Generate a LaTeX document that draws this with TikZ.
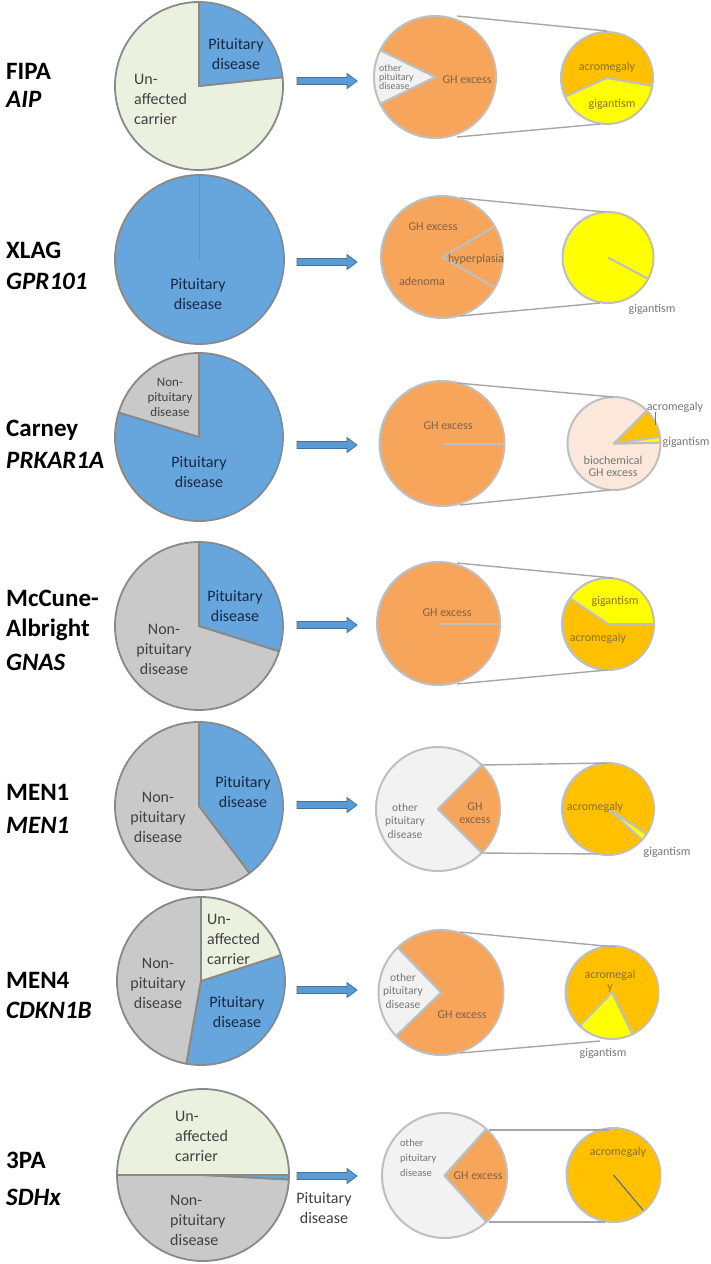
\documentclass[tikz,border=0pt]{standalone}
\usepackage{fontspec}
\setmainfont{Carlito}
\usetikzlibrary{calc}
\definecolor{pblue}{RGB}{102,166,220}
\definecolor{pgreen}{RGB}{234,241,222}
\definecolor{pgrey}{RGB}{201,201,201}
\definecolor{porange}{RGB}{247,165,90}
\definecolor{plight}{RGB}{242,242,242}
\definecolor{pgold}{RGB}{255,192,0}
\definecolor{pyellow}{RGB}{255,255,0}
\definecolor{ppeach}{RGB}{252,232,218}
\definecolor{lborder}{RGB}{137,137,137}
\definecolor{rborder}{RGB}{191,191,191}
\definecolor{zline}{RGB}{166,166,166}
\definecolor{abfill}{RGB}{91,155,213}
\definecolor{abdraw}{RGB}{65,113,156}
\definecolor{tnavy}{RGB}{22,40,66}
\definecolor{tdark}{RGB}{64,64,64}
\definecolor{tbrown}{RGB}{130,98,66}
\definecolor{tgold}{RGB}{140,112,40}
\definecolor{tgrey}{RGB}{118,118,118}
\definecolor{slate}{RGB}{100,110,130}
\newcommand\pieslice[5]{\filldraw[#5] (#1) -- ++(#3:#2) arc[start angle=#3,end angle=#4,radius=#2] -- cycle;}
\newcommand\barrow[1]{\filldraw[abstyle] (297,#1+3.5) -- (347,#1+3.5) -- (347,#1+7.5) -- (357,#1) -- (347,#1-7.5) -- (347,#1-3.5) -- (297,#1-3.5) -- cycle;}
\begin{document}
\begin{tikzpicture}[x=1pt,y=1pt,
  lpie/.style={draw=lborder,line width=1.8pt,line join=round},
  rpie/.style={draw=rborder,line width=2pt,line join=round},
  zoomline/.style={draw=zline,line width=1.4pt},
  abstyle/.style={fill=abfill,draw=abdraw,line width=0.8pt},
  rowlabel/.style={anchor=west,font=\fontsize{25}{30}\selectfont\bfseries,align=left,inner sep=0pt},
  gene/.style={anchor=west,font=\fontsize{25}{30}\selectfont\bfseries\itshape,inner sep=0pt},
  ltext/.style={font=\fontsize{16}{20}\selectfont,align=center,inner sep=0pt},
  stext/.style={font=\fontsize{12}{12}\selectfont,align=center,inner sep=0pt},
  otext/.style={text=tgrey,font=\fontsize{11.5}{13.5}\selectfont,align=center,inner sep=0pt}]
\useasboundingbox (0,0) rectangle (711,-1264);

% ================= Row 1: FIPA =================
\coordinate (L1) at (199,-86);
\pieslice{L1}{84}{90}{366}{lpie,fill=pgreen}
\pieslice{L1}{84}{6}{90}{lpie,fill=pblue}
\node[ltext,text=tnavy] (l1a) at (236,-54) {Pituitary\\disease};
\node[ltext,text=tdark,anchor=west,align=left] (l1b) at (134,-99) {Un-\\affected\\carrier};
\node[rowlabel] (n1) at (6,-71) {FIPA};
\node[gene] (g1) at (6,-99) {AIP};
\barrow{-81}
\coordinate (R1) at (435,-77);
\pieslice{R1}{61}{206}{514}{rpie,fill=porange}
\pieslice{R1}{61}{154}{206}{rpie,fill=plight}
\node[otext,anchor=west,align=left,font=\fontsize{10}{9}\selectfont] (r1a) at (379,-77) {other\\pituitary\\disease};
\node[stext,text=tbrown] (r1b) at (467,-80) {GH excess};
\coordinate (S1) at (607,-78);
\pieslice{S1}{46}{-10}{204}{rpie,fill=pgold}
\pieslice{S1}{46}{204}{350}{rpie,fill=pyellow}
\node[stext,text=tgold] (s1a) at (607,-67) {acromegaly};
\node[stext,text=tgold] (s1b) at (612,-104) {gigantism};
\coordinate (z1a) at (457,-16); \coordinate (z1b) at (607,-31);
\coordinate (z1c) at (457,-137); \coordinate (z1d) at (600,-124);
\draw[zoomline] (z1a) -- (z1b);
\draw[zoomline] (z1c) -- (z1d);

% ================= Row 2: XLAG =================
\coordinate (L2) at (199.5,-259.5);
\filldraw[lpie,fill=pblue] (L2) circle[radius=84.5];
\draw[lpie] (L2) -- ++(90:84.5);
\node[ltext,text=tnavy] (l2a) at (198,-294) {Pituitary\\disease};
\node[rowlabel] (n2) at (6,-250) {XLAG};
\node[gene] (g2) at (6,-281) {GPR101};
\barrow{-262}
\coordinate (R2) at (442,-257);
\pieslice{R2}{61}{30}{330}{rpie,fill=porange}
\pieslice{R2}{61}{-30}{30}{rpie,fill=porange}
\node[stext,text=tbrown] (r2a) at (433,-227) {GH excess};
\node[stext,text=tbrown] (r2b) at (476,-259) {hyperplasia};
\node[stext,text=tbrown] (r2c) at (422,-281) {adenoma};
\coordinate (S2) at (608,-257.5);
\filldraw[rpie,fill=pyellow] (S2) circle[radius=45.5];
\draw[rpie] (S2) -- ++(-28:45.5);
\node[stext,text=tgrey] (s2a) at (652,-309) {gigantism};
\coordinate (z2a) at (460,-198); \coordinate (z2b) at (605,-212);
\coordinate (z2c) at (460,-316); \coordinate (z2d) at (600,-303);
\draw[zoomline] (z2a) -- (z2b);
\draw[zoomline] (z2c) -- (z2d);

% ================= Row 3: Carney =================
\coordinate (L3) at (199,-437);
\pieslice{L3}{84}{163}{450}{lpie,fill=pblue}
\pieslice{L3}{84}{90}{163}{lpie,fill=pgrey}
\node[text=tdark,font=\fontsize{13}{15}\selectfont,align=center,inner sep=0pt] (l3a) at (170,-397) {Non-\\pituitary\\disease};
\node[ltext,text=tnavy] (l3b) at (199,-472) {Pituitary\\disease};
\node[rowlabel] (n3) at (6,-430) {Carney};
\node[gene] (g3) at (6,-460) {PRKAR1A};
\barrow{-445}
\coordinate (R3) at (442,-443.5);
\filldraw[rpie,fill=porange] (R3) circle[radius=62.5];
\draw[rpie] (R3) -- ++(0:62.5);
\node[stext,text=tbrown] (r3a) at (448,-426) {GH excess};
\coordinate (S3) at (614,-443.5);
\pieslice{S3}{46.5}{45}{361}{rpie,fill=ppeach}
\pieslice{S3}{46.5}{8}{45}{rpie,fill=pgold}
\pieslice{S3}{46.5}{1}{8}{rpie,fill=pyellow}
\node[stext,text=tgrey] (s3a) at (675,-407) {acromegaly};
\node[stext,text=tgrey] (s3b) at (686,-442) {gigantism};
\node[stext,text=tgrey] (s3c) at (613,-466) {biochemical\\GH excess};
\coordinate (k3a) at (655,-412); \coordinate (k3b) at (655,-425);
\draw[draw=tgrey,line width=0.8pt] (k3a) -- (k3b);
\coordinate (z3a) at (457,-383); \coordinate (z3b) at (613,-397);
\coordinate (z3c) at (460,-505); \coordinate (z3d) at (610,-490);
\draw[zoomline] (z3a) -- (z3b);
\draw[zoomline] (z3c) -- (z3d);

% ================= Row 4: McCune-Albright =================
\coordinate (L4) at (199,-626);
\pieslice{L4}{84}{90}{342.5}{lpie,fill=pgrey}
\pieslice{L4}{84}{-17.5}{90}{lpie,fill=pblue}
\node[ltext,text=tnavy] (l4a) at (235,-606) {Pituitary\\disease};
\node[ltext,text=tdark] (l4b) at (164,-649) {Non-\\pituitary\\disease};
\node[rowlabel] (n4) at (6,-598) {McCune-};
\node[rowlabel] (n4b) at (6,-630) {Albright};
\node[gene] (g4) at (6,-662) {GNAS};
\barrow{-625}
\coordinate (R4) at (438.5,-623.5);
\filldraw[rpie,fill=porange] (R4) circle[radius=61.5];
\draw[rpie] (R4) -- ++(0:61.5);
\node[stext,text=tbrown] (r4a) at (447,-613) {GH excess};
\coordinate (S4) at (608,-624);
\pieslice{S4}{46}{146}{360}{rpie,fill=pgold}
\pieslice{S4}{46}{0}{146}{rpie,fill=pyellow}
\node[stext,text=tgold] (s4a) at (615,-601) {gigantism};
\node[stext,text=tgold] (s4b) at (598,-638) {acromegaly};
\coordinate (z4a) at (457,-563); \coordinate (z4b) at (613,-578);
\coordinate (z4c) at (457,-684); \coordinate (z4d) at (607,-670);
\draw[zoomline] (z4a) -- (z4b);
\draw[zoomline] (z4c) -- (z4d);

% ================= Row 5: MEN1 =================
\coordinate (L5) at (199,-806);
\pieslice{L5}{84}{90}{307}{lpie,fill=pgrey}
\pieslice{L5}{84}{-53}{90}{lpie,fill=pblue}
\node[ltext,text=tnavy] (l5a) at (243,-792) {Pituitary\\disease};
\node[ltext,text=tdark] (l5b) at (158,-817) {Non-\\pituitary\\disease};
\node[rowlabel] (n5) at (6,-792) {MEN1};
\node[gene] (g5) at (6,-825) {MEN1};
\barrow{-805}
\coordinate (R5) at (438,-809);
\pieslice{R5}{62}{45}{315}{rpie,fill=plight}
\pieslice{R5}{62}{-45}{45}{rpie,fill=porange}
\node[otext] (r5a) at (405,-821) {other\\pituitary\\disease};
\node[stext,text=tbrown,font=\fontsize{12}{13}\selectfont] (r5b) at (475,-813) {GH\\excess};
\coordinate (S5) at (608,-809);
\pieslice{S5}{46}{-33}{318}{rpie,fill=pgold}
\pieslice{S5}{46}{-42}{-33}{rpie,fill=pyellow}
\node[stext,text=tgold] (s5a) at (595,-807) {acromegaly};
\node[stext,text=tgrey] (s5b) at (667,-852) {gigantism};
\coordinate (z5a) at (482,-765); \coordinate (z5b) at (607,-763);
\coordinate (z5c) at (482,-853); \coordinate (z5d) at (598,-854);
\draw[zoomline] (z5a) -- (z5b);
\draw[zoomline] (z5c) -- (z5d);

% ================= Row 6: MEN4 =================
\coordinate (L6) at (201,-981);
\pieslice{L6}{84}{90}{260}{lpie,fill=pgrey}
\pieslice{L6}{84}{-100}{18}{lpie,fill=pblue}
\pieslice{L6}{84}{18}{90}{lpie,fill=pgreen}
\node[ltext,text=tdark,anchor=west,align=left] (l6a) at (207,-939) {Un-\\affected\\carrier};
\node[ltext,text=tdark] (l6b) at (158,-983) {Non-\\pituitary\\disease};
\node[ltext,text=tnavy] (l6c) at (237,-1012) {Pituitary\\disease};
\node[rowlabel] (n6) at (6,-980) {MEN4};
\node[gene] (g6) at (6,-1010) {CDKN1B};
\barrow{-990}
\coordinate (R6) at (441,-992.5);
\pieslice{R6}{62.5}{224}{494}{rpie,fill=porange}
\pieslice{R6}{62.5}{134}{224}{rpie,fill=plight}
\node[otext] (r6a) at (403,-991) {other\\pituitary\\disease};
\node[stext,text=tbrown] (r6b) at (462,-1015) {GH excess};
\coordinate (S6) at (612,-992.5);
\pieslice{S6}{46.5}{296}{586}{rpie,fill=pgold}
\pieslice{S6}{46.5}{226}{296}{rpie,fill=pyellow}
\node[stext,text=tgold,font=\fontsize{12}{12}\selectfont] (s6a) at (610,-981) {acromegal\\y};
\node[stext,text=tgrey] (s6b) at (603,-1053) {gigantism};
\coordinate (z6a) at (460,-932); \coordinate (z6b) at (615,-947);
\coordinate (z6c) at (460,-1053); \coordinate (z6d) at (600,-1041);
\draw[zoomline] (z6a) -- (z6b);
\draw[zoomline] (z6c) -- (z6d);

% ================= Row 7: 3PA =================
\coordinate (L7) at (203,-1175);
\pieslice{L7}{86}{180}{357}{lpie,fill=pgrey}
\pieslice{L7}{86}{0}{180}{lpie,fill=pgreen}
\pieslice{L7}{86}{-3}{0}{lpie,fill=pblue}
\node[ltext,text=tdark,anchor=west,align=left] (l7a) at (175,-1136) {Un-\\affected\\carrier};
\node[ltext,text=tdark,anchor=west,align=left] (l7b) at (170,-1220) {Non-\\pituitary\\disease};
\node[ltext,text=tdark] (l7c) at (324,-1208) {Pituitary\\disease};
\node[rowlabel] (n7) at (6,-1160) {3PA};
\node[gene] (g7) at (6,-1197) {SDHx};
\barrow{-1176}
\coordinate (R7) at (444.5,-1175.5);
\pieslice{R7}{62.5}{48}{312}{rpie,fill=plight}
\pieslice{R7}{62.5}{-48}{48}{rpie,fill=porange}
\node[otext,anchor=west,align=left,font=\fontsize{10.5}{15}\selectfont] (r7a) at (400,-1158) {other\\pituitary\\disease};
\node[stext,text=tbrown] (r7b) at (478,-1176) {GH excess};
\coordinate (S7) at (613.5,-1175);
\filldraw[rpie,fill=pgold] (S7) circle[radius=47];
\coordinate (s7t) at ($(S7)+(-50:46)$);
\draw[draw=slate,line width=1.2pt] (S7) -- (s7t);
\node[stext,text=tgold] (s7a) at (618,-1152) {acromegaly};
\coordinate (z7a) at (489,-1130); \coordinate (z7b) at (609,-1130);
\coordinate (z7c) at (489,-1222); \coordinate (z7d) at (605,-1222);
\draw[zoomline] (z7a) -- (z7b);
\draw[zoomline] (z7c) -- (z7d);
\end{tikzpicture}
\end{document}
